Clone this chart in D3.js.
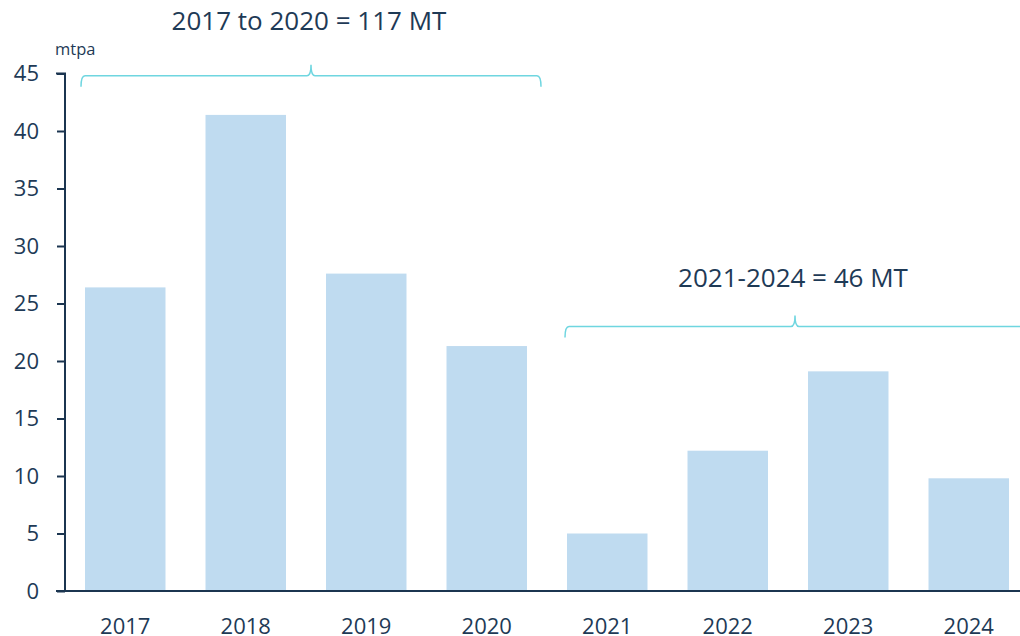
<!DOCTYPE html>
<html>
<head>
<meta charset="utf-8">
<script src="https://cdn.jsdelivr.net/npm/d3@7"></script>
<style>
body { margin: 0; background: #fff; }
text { font-family: "Open Sans", sans-serif; fill: #1e3a56; }
</style>
</head>
<body>
<div id="chart"></div>
<script>
// data
var years = ["2017", "2018", "2019", "2020", "2021", "2022", "2023", "2024"];
var values = [26.4, 41.4, 27.6, 21.3, 5.0, 12.2, 19.1, 9.8];
var yTicks = [0, 5, 10, 15, 20, 25, 30, 35, 40, 45];
var groupLabels = ["2017 to 2020 = 117 MT", "2021-2024 = 46 MT"];
var groupFrom = ["2017", "2021"];
var groupTo = ["2020", "2024"];
var groupLevel = [44.8, 23];

var width = 1020, height = 636;
var axisColor = "#1b3550";

var svg = d3.select("#chart").append("svg")
	.attr("width", width)
	.attr("height", height);

var x = d3.scaleBand()
	.domain(years)
	.range([65, 1029])
	.paddingInner(0.332)
	.paddingOuter(0.166);
var y = d3.scaleLinear()
	.domain([0, 45])
	.range([591, 73.5]);

var data = years.map(function(d, i){ return {year: d, value: values[i]}; });

svg.selectAll(".bar")
	.data(data)
	.enter().append("rect")
		.attr("class", "bar")
		.attr("fill", "#bfdbf0")
		.attr("x", function(d){ return x(d.year); })
		.attr("width", x.bandwidth())
		.attr("y", function(d){ return y(d.value); })
		.attr("height", function(d){ return y(0) - y(d.value); });

//y axis
var yAxis = svg.append("g")
	.attr("transform", "translate(65,0)")
	.call(d3.axisLeft(y).tickValues(yTicks).tickSize(8).tickPadding(18));
yAxis.selectAll("path, line").attr("stroke", axisColor).attr("stroke-width", 2);
yAxis.select(".domain").attr("d", "M-9," + y(45) + "H0V" + y(0));
yAxis.selectAll("text")
	.style("font-size", "22px")
	.style("font-family", "Open Sans")
	.attr("fill", "#1e3a56");

//x axis
var xAxis = svg.append("g")
	.attr("transform", "translate(0," + y(0) + ")")
	.call(d3.axisBottom(x).tickSize(0).tickPadding(27));
xAxis.select(".domain").attr("stroke", axisColor).attr("stroke-width", 2)
	.attr("d", "M56,0H1020");
xAxis.selectAll("text")
	.style("font-size", "22px")
	.style("font-family", "Open Sans")
	.attr("fill", "#1e3a56");

svg.append("text")
	.attr("x", 55)
	.attr("y", 55)
	.style("font-size", "16.5px")
	.text("mtpa");

// brackets over the two periods
groupLabels.forEach(function(label, i){
	var x1 = x(groupFrom[i]) - 4 + i * 2;
	var x2 = x(groupTo[i]) + x.bandwidth() + 14 + i * 2;
	var xm = (x1 + x2) / 2;
	var ly = y(groupLevel[i]);
	var p = "M" + x1 + "," + (ly + 11) +
		"Q" + x1 + "," + ly + " " + (x1 + 4) + "," + ly +
		"L" + (xm - 4) + "," + ly +
		"Q" + xm + "," + ly + " " + xm + "," + (ly - 11) +
		"Q" + xm + "," + ly + " " + (xm + 4) + "," + ly +
		"L" + (x2 - 4) + "," + ly +
		"Q" + x2 + "," + ly + " " + x2 + "," + (ly + 11);
	svg.append("path")
		.attr("d", p)
		.attr("fill", "none")
		.attr("stroke", "#6fd6e0")
		.attr("stroke-width", 1.5);
	svg.append("text")
		.attr("x", xm - 2)
		.attr("y", ly - (i == 0 ? 46 : 40))
		.attr("text-anchor", "middle")
		.style("font-size", "26px")
		.text(label);
});
</script>
</body>
</html>
